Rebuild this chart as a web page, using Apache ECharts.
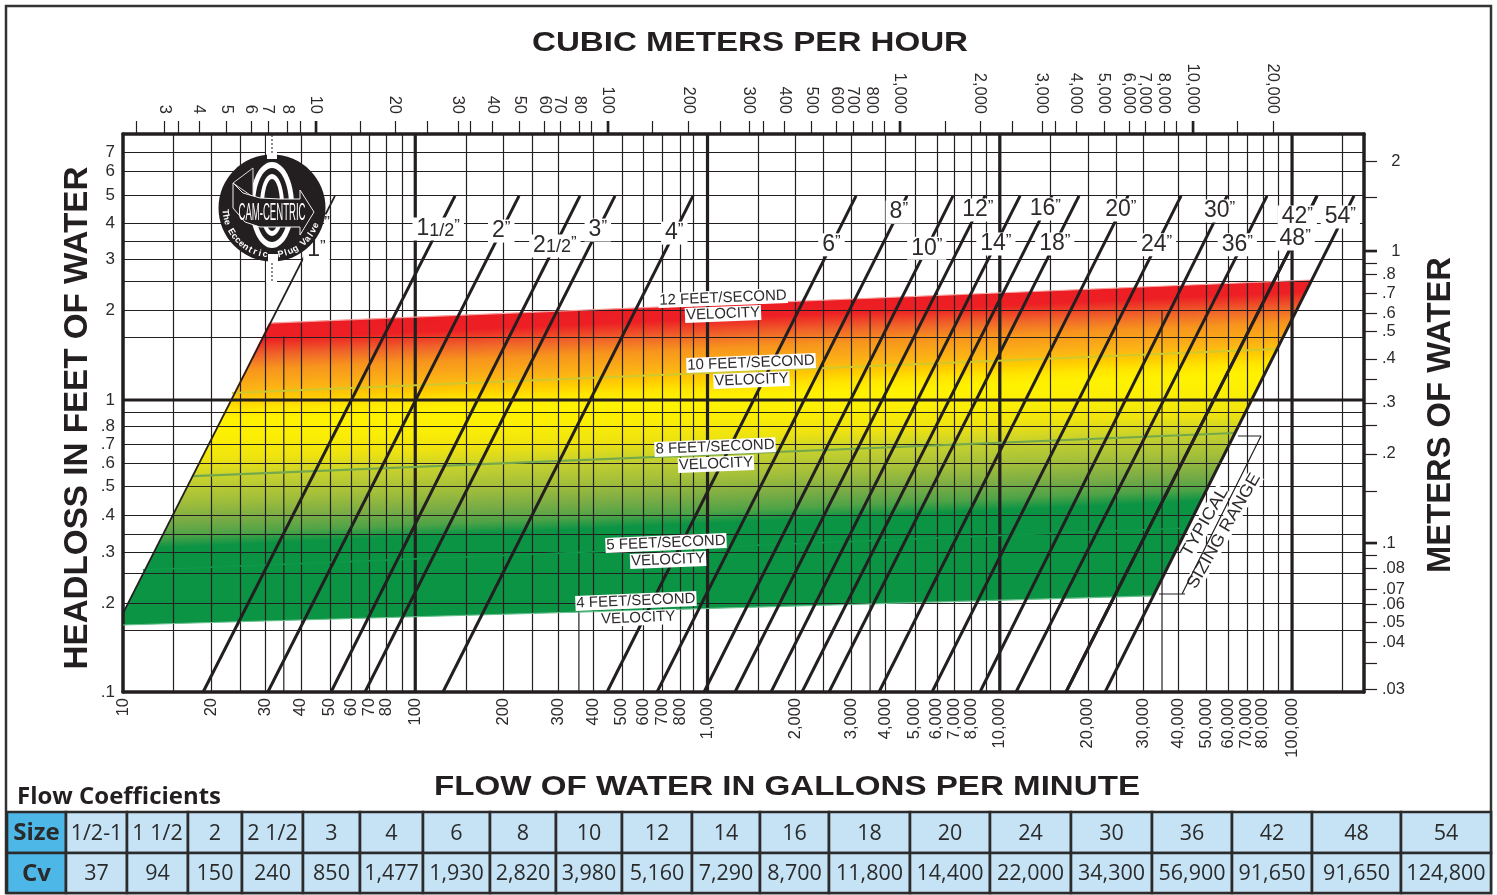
<!DOCTYPE html>
<html>
<head>
<meta charset="utf-8">
<title>Cam-Centric headloss chart</title>
<script src="https://cdn.jsdelivr.net/npm/echarts@6/dist/echarts.min.js"></script>
<style>
html, body { margin: 0; padding: 0; background: #fff; }
#chart { width: 1497px; height: 895px; }
</style>
</head>
<body>
<div id="chart"></div>
<script>
// gallons per minute, bottom axis (grid lines as they sit on the sheet)
var gpmTicks = [10, 14.9, 20, 25.1, 30.6, 40.6, 51, 60.5, 69.5, 79.4, 90, 100, 149, 200, 251, 309, 406, 509, 605, 699, 805, 895,
    1000, 1490, 2000, 2490, 3098, 4060, 5120, 6090, 7000, 8000, 8980, 10000, 14900, 20000, 25000, 31000, 40800, 51000, 60500, 70000, 79400, 89500, 100000, 149000];
var gpmLabels = ['10', '', '20', '', '30', '40', '50', '60', '70', '80', '', '100', '', '200', '', '300', '400', '500', '600', '700', '800', '',
    '1,000', '', '2,000', '', '3,000', '4,000', '5,000', '6,000', '7,000', '8,000', '', '10,000', '', '20,000', '', '30,000', '40,000', '50,000', '60,000', '70,000', '80,000', '', '100,000', ''];
// the 35/350/3500/35000 lines stop part way up
var gpmShortLines = [35.5, 363, 3600, 35900];
var gpmShortTop = [1.65, 2.03, 2.03, 2.03];
var gpmHeavy = [100, 1000, 10000, 100000];

// cubic meters per hour, top axis
var cmhTicks = [2.42, 3.02, 3.37, 3.97, 4.92, 5.99, 6.85, 7.96, 8.81, 10, 14.15, 18.64, 24, 30.6, 33.7, 40.1, 49.6, 60.4, 68.5, 79.6, 87.5, 100, 141.5, 188, 242, 304, 339, 401, 496, 604, 690, 802, 881, 1000, 1426, 1879, 2419, 3064, 3395, 4006, 4995, 6085, 6902, 8020, 8814, 10080, 14260, 18940];
var cmhLabels = ['', '3', '', '4', '5', '6', '7', '8', '', '10', '', '20', '', '30', '', '40', '50', '60', '70', '80', '', '100', '', '200', '', '300', '', '400', '500', '600', '700', '800', '', '1,000', '', '2,000', '', '3,000', '', '4,000', '5,000', '6,000', '7,000', '8,000', '', '10,000', '', '20,000'];
var cmhHeavy = [10, 100, 1000, 10080];

// feet of water, left axis
var feetTicks = [7.07, 6.09, 5.04, 4.04, 3.5, 3.04, 2.56, 2.03, 1.64, 1, 0.91, 0.81, 0.707, 0.608, 0.508, 0.404, 0.348, 0.302, 0.256, 0.202, 0.163, 0.1];
var feetLabels = ['7', '6', '5', '4', '', '3', '', '2', '', '1', '', '.8', '.7', '.6', '.5', '.4', '', '.3', '', '.2', '', '.1'];
var feetHeavy = [1];

// meters of water, right axis
var meterTicks = [2.03, 1.53, 1, 0.91, 0.83, 0.718, 0.613, 0.532, 0.427, 0.365, 0.302, 0.253, 0.202, 0.151, 0.1, 0.091, 0.082, 0.0695, 0.0618, 0.0536, 0.0457, 0.0388, 0.0315];
var meterLabels = ['  2', '', '  1', '', '.8', '.7', '.6', '.5', '.4', '', '.3', '', '.2', '', '.1', '', '.08', '.07', '.06', '.05', '.04', '', '.03'];
var meterHeavy = [1, 0.1];

// valve sizes: flow at 0.1 ft and at 5 ft of headloss
var pipeSizes = ['1', '1 1/2', '2', '2 1/2', '3', '4', '6', '8', '10', '12', '14', '16', '18', '20', '24', '30', '36', '42', '48', '54'];
var pipeFlowLow = [7.3, 18.8, 31.3, 51.5, 67.3, 124.4, 453, 672, 973, 1242, 1649, 2105, 2605, 3862, 5864, 8558, 11365, 16850, 16850, 22930];
var pipeFlowHigh = [53.1, 136.8, 226.5, 366, 482.5, 892, 3222, 4814, 6918, 8903, 11730, 15090, 18670, 27470, 41720, 59950, 82130, 121740, 121740, 162900];
var pipeLabelHead = [3.26, 3.85, 3.79, 3.37, 3.82, 3.73, 3.4, 4.4, 3.31, 4.47, 3.42, 4.51, 3.42, 4.47, 3.4, 4.44, 3.4, 4.23, 3.56, 4.23];

// coloured band outline [gpm, feet]
var bandOutline = [[10, 0.1696], [33450, 0.2133], [116150, 2.576], [31.6, 1.835], [10, 0.1866]];
var bandFadeTop = 1.75;
var bandFadeBottom = 0.1696;

// velocity lines [gpm, feet]
var velocity12 = [[31.6, 1.835], [116150, 2.576]];
var velocity10 = [[23.6, 1.057], [88900, 1.495]];
var velocity8 = [[17.4, 0.549], [63800, 0.771]];
var velocity5 = [[11.7, 0.262], [43720, 0.3645]];
var velocity4 = [[10, 0.1696], [33450, 0.2133]];

var velocityText = ['12 FEET/SECOND', 'VELOCITY', '10 FEET/SECOND', 'VELOCITY', '8 FEET/SECOND', 'VELOCITY', '5 FEET/SECOND', 'VELOCITY', '4 FEET/SECOND', 'VELOCITY'];
var velocityFlow = [1130, 1130, 1409, 1414, 1061, 1069, 721, 733, 569, 579];
var velocityHead = [2.235, 1.971, 1.339, 1.171, 0.69, 0.604, 0.3238, 0.2832, 0.2049, 0.1793];

var sizingBracket = [[35060, 0.2166], [43050, 0.2166], [42040, 0.2166], [78330, 0.753], [65330, 0.753]];

var tableSizes = ['1/2-1', '1 1/2', '2', '2 1/2', '3', '4', '6', '8', '10', '12', '14', '16', '18', '20', '24', '30', '36', '42', '48', '54'];
var tableCv = ['37', '94', '150', '240', '850', '1,477', '1,930', '2,820', '3,980', '5,160', '7,290', '8,700', '11,800', '14,400', '22,000', '34,300', '56,900', '91,650', '91,650', '124,800'];

var INK = '#231f20';
var TEXT = '#2e2a2b';
var FONT = '"Liberation Sans", Arial, sans-serif';

var GRID = { left: 123, top: 134, right: 133, bottom: 203 };
var X_MIN = 10, X_MAX = 176300;
var Y_MIN = 0.1, Y_MAX = 8.147;

var measureCtx = document.createElement('canvas').getContext('2d');
function fitScale(text, font, width) {
    measureCtx.font = font;
    return width / measureCtx.measureText(text).width;
}

function labelled(ticks, labels) {
    return ticks.filter(function (v, i) { return labels[i] !== ''; });
}

// custom labels come back as a plain value, so look the text up by nearest tick
function labelFor(ticks, labels) {
    return function (value) {
        var best = 0, bestDiff = Infinity;
        for (var i = 0; i < ticks.length; i++) {
            var d = Math.abs(Math.log10(ticks[i]) - Math.log10(value));
            if (d < bestDiff) { bestDiff = d; best = i; }
        }
        return labels[best];
    };
}

function logAxis(position, min, max, ticks, labels, extra) {
    var axis = {
        type: 'log',
        logBase: 10,
        position: position,
        min: min,
        max: max,
        z: 3,
        axisLine: { show: true, onZero: false, lineStyle: { color: INK, width: 3.5 } },
        axisTick: { show: false, customValues: ticks },
        axisLabel: {
            customValues: labelled(ticks, labels),
            formatter: labelFor(ticks, labels),
            color: TEXT,
            fontFamily: FONT,
            fontSize: 16.5,
            hideOverlap: false
        },
        splitLine: { show: false },
        minorTick: { show: false },
        minorSplitLine: { show: false }
    };
    for (var k in extra) {
        for (var j in extra[k]) { axis[k][j] = extra[k][j]; }
    }
    return axis;
}

var xBottom = logAxis('bottom', X_MIN, X_MAX, gpmTicks, gpmLabels, {
    axisLabel: { rotate: 90, margin: 6, padding: [6, 0, 0, 0] },
    splitLine: { show: true, lineStyle: { color: INK, width: 1.2 } }
});
var xTop = logAxis('top', 2.183, 38820, cmhTicks, cmhLabels, {
    axisTick: { show: true, length: 13, lineStyle: { color: INK, width: 1.2 } },
    axisLabel: { rotate: 90, margin: 20, padding: [3, 0, 0, 0] }
});
var yLeft = logAxis('left', Y_MIN, Y_MAX, feetTicks, feetLabels, {
    axisLabel: { margin: 8, fontSize: 17 },
    splitLine: { show: true, lineStyle: { color: INK, width: 1.2 } }
});
var yRight = logAxis('right', 0.03089, 2.516, meterTicks, meterLabels, {
    axisTick: { show: true, length: 13, lineStyle: { color: INK, width: 1.2 } },
    axisLabel: { margin: 18, fontSize: 16.5, align: 'left' }
});

function lineSeries(name, data, color, width, z, extra) {
    var s = {
        name: name,
        type: 'line',
        data: data,
        z: z,
        symbol: 'none',
        silent: true,
        animation: false,
        lineStyle: { color: color, width: width }
    };
    for (var k in extra) { s[k] = extra[k]; }
    return s;
}

var series = [];

// colour band, gradient runs slightly off vertical like the velocity lines
series.push({
    type: 'custom',
    name: 'Band',
    z: 1,
    silent: true,
    animation: false,
    data: [[X_MIN, Y_MIN]],
    renderItem: function (params, api) {
        var a = api.coord([X_MIN, bandFadeTop]);
        var b = api.coord([X_MIN, bandFadeBottom]);
        var k = 0.045;
        var len = (b[1] - a[1]) / (1 + k * k);
        return {
            type: 'polygon',
            shape: { points: bandOutline.map(function (p) { return api.coord(p); }) },
            style: {
                fill: new echarts.graphic.LinearGradient(a[0], a[1], a[0] + k * len, a[1] + len, [
                    { offset: 0, color: '#ed1c24' },
                    { offset: 0.054, color: '#ed1f24' },
                    { offset: 0.108, color: '#f0642a' },
                    { offset: 0.155, color: '#f7941d' },
                    { offset: 0.223, color: '#fcb514' },
                    { offset: 0.257, color: '#ffcc00' },
                    { offset: 0.29, color: '#ffe600' },
                    { offset: 0.324, color: '#fff200' },
                    { offset: 0.387, color: '#fbee05' },
                    { offset: 0.455, color: '#eee310' },
                    { offset: 0.52, color: '#c5d02e' },
                    { offset: 0.59, color: '#a3bf3a' },
                    { offset: 0.655, color: '#7aac45' },
                    { offset: 0.706, color: '#4fa347' },
                    { offset: 0.745, color: '#0b9444' },
                    { offset: 1, color: '#0b9444' }
                ], true)
            }
        };
    }
});

// short grid lines and heavy decade lines
gpmShortLines.forEach(function (v, i) {
    series.push(lineSeries('gpm ' + v, [[v, Y_MIN], [v, gpmShortTop[i]]], INK, 1.2, 3));
});
gpmHeavy.forEach(function (v) {
    series.push(lineSeries('gpm ' + v, [[v, Y_MIN], [v, Y_MAX]], INK, 3.2, 3));
});
feetHeavy.forEach(function (v) {
    series.push(lineSeries('feet ' + v, [[X_MIN, v], [X_MAX, v]], INK, 3, 3));
});

// velocity lines
series.push(lineSeries('12 ft/s', velocity12, '#f5a3a0', 1.2, 3.5));
series.push(lineSeries('10 ft/s', velocity10, '#cfc92e', 2, 3.5));
series.push(lineSeries('8 ft/s', velocity8, '#74a84c', 2.2, 3.5));
series.push(lineSeries('5 ft/s', velocity5, '#0f974a', 1.6, 3.5));
series.push(lineSeries('4 ft/s', velocity4, '#6cc08f', 1.2, 3.5));

// pipe lines
pipeSizes.forEach(function (size, i) {
    series.push(lineSeries(size + '"', [[pipeFlowLow[i], 0.1], [pipeFlowHigh[i], 5]], INK, i === 0 ? 1.8 : 3, 4));
});

series.push(lineSeries('Sizing range', sizingBracket, INK, 1.2, 4));

// heavy ticks on the top and right axes
series.push({
    type: 'custom',
    name: 'Heavy top ticks',
    xAxisIndex: 1,
    yAxisIndex: 0,
    z: 4,
    clip: false,
    silent: true,
    animation: false,
    data: cmhHeavy.map(function (v) { return [v, Y_MAX]; }),
    renderItem: function (params, api) {
        var p = api.coord([api.value(0), api.value(1)]);
        return { type: 'line', shape: { x1: p[0], y1: p[1], x2: p[0], y2: p[1] - 13 }, style: { stroke: INK, lineWidth: 2.6 } };
    }
});
series.push({
    type: 'custom',
    name: 'Heavy right ticks',
    xAxisIndex: 0,
    yAxisIndex: 1,
    z: 4,
    clip: false,
    silent: true,
    animation: false,
    data: meterHeavy.map(function (v) { return [X_MAX, v]; }),
    renderItem: function (params, api) {
        var p = api.coord([api.value(0), api.value(1)]);
        return { type: 'line', shape: { x1: p[0], y1: p[1], x2: p[0] + 13, y2: p[1] }, style: { stroke: INK, lineWidth: 2.6 } };
    }
});

// size labels sit on their own line, a few are nudged off it
var labelNudge = { '1': 9, '36': -5, '42': -9, '54': -3 };
function flowOnLine(i, head) {
    var t = (Math.log10(head) - Math.log10(0.1)) / (Math.log10(5) - Math.log10(0.1));
    return Math.pow(10, Math.log10(pipeFlowLow[i]) + t * (Math.log10(pipeFlowHigh[i]) - Math.log10(pipeFlowLow[i])));
}
series.push({
    type: 'scatter',
    name: 'Size labels',
    z: 5,
    silent: true,
    animation: false,
    symbolSize: 0,
    itemStyle: { opacity: 1 },
    data: pipeSizes.map(function (size, i) {
        return {
            value: [flowOnLine(i, pipeLabelHead[i]), pipeLabelHead[i]],
            label: { offset: [labelNudge[size] || 0, 0] }
        };
    }),
    label: {
        show: true,
        opacity: 1,
        position: 'inside',
        backgroundColor: '#fff',
        padding: [0, 4],
        color: TEXT,
        fontFamily: FONT,
        formatter: function (p) {
            var parts = pipeSizes[p.dataIndex].split(' ');
            var text = '{big|' + parts[0] + '}';
            if (parts[1]) { text += '{small|' + parts[1] + '}'; }
            return text + '{quote|”}';
        },
        rich: {
            big: { fontSize: 23, fontFamily: FONT, color: TEXT },
            small: { fontSize: 18, fontFamily: FONT, color: TEXT, padding: [3, 0, 0, 0] },
            quote: { fontSize: 17, fontFamily: FONT, color: TEXT, padding: [0, 0, 6, 0] }
        }
    }
});

// velocity captions
series.push({
    type: 'scatter',
    name: 'Velocity labels',
    z: 5,
    silent: true,
    animation: false,
    symbolSize: 0,
    itemStyle: { opacity: 1 },
    data: velocityText.map(function (t, i) { return [velocityFlow[i], velocityHead[i]]; }),
    label: {
        show: true,
        opacity: 1,
        position: 'inside',
        rotate: 2.3,
        backgroundColor: '#fff',
        padding: [0, 1],
        color: TEXT,
        fontFamily: FONT,
        fontSize: 15,
        formatter: function (p) { return velocityText[p.dataIndex]; }
    }
});

// logo and page furniture are plain graphics
var graphics = [];
function text(str, x, y, opts) {
    var font = (opts.bold ? 'bold ' : '') + opts.size + 'px ' + (opts.family || FONT);
    graphics.push({
        type: 'text',
        x: x,
        y: y,
        z: opts.z || 20,
        rotation: opts.rotation || 0,
        scaleX: opts.width ? fitScale(str, font, opts.width) : (opts.scaleX || 1),
        style: {
            text: str,
            fontSize: opts.size,
            fontFamily: opts.family || FONT,
            fontWeight: opts.bold ? 'bold' : 'normal',
            fill: opts.fill || INK,
            align: opts.align || 'center',
            verticalAlign: 'middle',
            backgroundColor: opts.background
        }
    });
}
function shape(type, shapeOpts, style, z) {
    graphics.push({ type: type, z: z || 20, shape: shapeOpts, style: style });
}

// outer frame
shape('rect', { x: 6, y: 6, width: 1485, height: 887 }, { fill: 'none', stroke: '#333', lineWidth: 2.5 }, 1);

text('CUBIC METERS PER HOUR', 750, 43, { size: 28, bold: true, width: 436 });
text('FLOW OF WATER IN GALLONS PER MINUTE', 787, 787, { size: 28, bold: true, width: 706 });
text('HEADLOSS IN FEET OF WATER', 78, 418, { size: 33, bold: true, width: 503, rotation: Math.PI / 2 });
text('METERS OF WATER', 1441, 415, { size: 33, bold: true, width: 316, rotation: Math.PI / 2 });
text('Flow Coefficients', 17, 797, { size: 24, bold: true, family: '"Open Sans", sans-serif', align: 'left', width: 204 });

// sizing range captions
text('TYPICAL', 1205, 522, { size: 17, width: 77, rotation: 60 * Math.PI / 180, fill: TEXT, background: '#fff', z: 3.9 });
text('SIZING RANGE', 1224, 531, { size: 17, width: 130, rotation: 60 * Math.PI / 180, fill: TEXT, background: '#fff', z: 3.9 });

// table
var colEdges = [7, 66, 127, 188, 242, 303, 360, 423, 490, 556, 622, 692, 760, 829, 910, 990, 1071, 1152, 1232, 1312, 1401, 1491];
var rowEdges = [812, 853, 893];
var tableFont = '"Open Sans", sans-serif';
[['Size'].concat(tableSizes), ['Cv'].concat(tableCv)].forEach(function (row, r) {
    row.forEach(function (cell, c) {
        var x0 = colEdges[c], x1 = colEdges[c + 1], y0 = rowEdges[r], y1 = rowEdges[r + 1];
        shape('rect', { x: x0, y: y0, width: x1 - x0, height: y1 - y0 }, { fill: c === 0 ? '#4db8e8' : '#c6e3f6', stroke: '#2b2b2b', lineWidth: 2.6 });
        text(cell, (x0 + x1) / 2, (y0 + y1) / 2 + 1, { size: c === 0 ? 24 : 21.5, bold: c === 0, family: tableFont, fill: '#2a2a2a', z: 21 });
    });
});

// logo
var LX = 272, LY = 208;
shape('rect', { x: 266, y: 136, width: 11, height: 146 }, { fill: '#fff' }, 10);
shape('line', { x1: 272, y1: 135, x2: 272, y2: 282 }, { stroke: INK, lineWidth: 1, lineDash: [2, 2] }, 11);
shape('circle', { cx: LX, cy: LY, r: 53.5 }, { fill: '#231f20' }, 12);
shape('rect', { x: 267, y: 154, width: 10, height: 5 }, { fill: '#fff' }, 13);
shape('rect', { x: 268, y: 254, width: 10, height: 8 }, { fill: '#fff' }, 13);
shape('ellipse', { cx: 272, cy: 205, rx: 22, ry: 43 }, { fill: '#fff' }, 13);
shape('ellipse', { cx: 272, cy: 205, rx: 17, ry: 37 }, { fill: '#231f20' }, 14);
shape('ellipse', { cx: 272, cy: 205, rx: 12, ry: 31 }, { fill: '#fff' }, 14);
shape('ellipse', { cx: 272, cy: 205, rx: 8, ry: 26 }, { fill: '#231f20' }, 14);
shape('polygon', { points: [[233, 183], [253, 168], [253, 197]] }, { fill: '#231f20', stroke: '#ddd', lineWidth: 1 }, 15);
shape('polygon', { points: [[233, 183], [243, 193], [260, 198], [280, 199], [300, 199], [300, 190], [314, 212], [300, 235], [300, 227], [260, 227], [245, 222], [233, 208]] },
    { fill: '#231f20', stroke: '#eee', lineWidth: 1 }, 15);
text('CAM-CENTRIC', 272, 213, { size: 24, width: 67, fill: '#fff', z: 16 });
var logoText = 'The Eccentric  Plug Valve';
for (var i = 0; i < logoText.length; i++) {
    var theta = (175 - i * 153 / (logoText.length - 1)) * Math.PI / 180;
    text(logoText.charAt(i), LX + 47 * Math.cos(theta), LY + 47 * Math.sin(theta), { size: 9, bold: true, fill: '#fff', rotation: Math.PI / 2 - theta, z: 16 });
}
text('”', 327, 223, { size: 17, fill: TEXT, background: '#fff', z: 6 });

var dom = document.getElementById('chart');
var myChart = echarts.init(dom);
var option = {
    animation: false,
    backgroundColor: '#fff',
    tooltip: { show: false },
    grid: { left: GRID.left, top: GRID.top, right: GRID.right, bottom: GRID.bottom, containLabel: false },
    xAxis: [xBottom, xTop],
    yAxis: [yLeft, yRight],
    series: series,
    graphic: { elements: graphics }
};
myChart.setOption(option, true);
</script>
</body>
</html>
